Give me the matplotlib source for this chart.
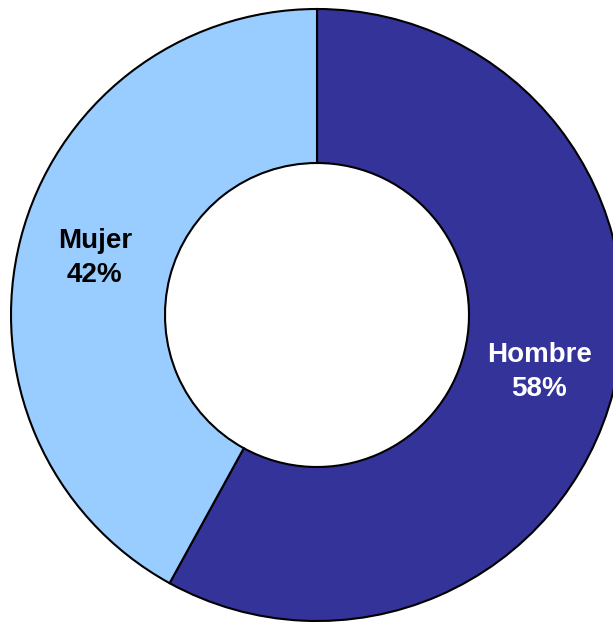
import matplotlib.pyplot as plt
import numpy as np

labels = ['Hombre', 'Mujer']
values = [58, 42]
colors = ['#333399', '#99CCFF']
text_colors = ['white', 'black']

fig = plt.figure(figsize=(6.13, 6.24), dpi=100)
ax = fig.add_axes([0, 0, 1, 1])

R = 306
cx, cy = 317, 309
wedges, _ = ax.pie(values, colors=colors, startangle=90, counterclock=False,
                   radius=R, center=(cx, cy),
                   wedgeprops=dict(width=154, edgecolor='black', linewidth=1.5))

for w, lab, v, tc in zip(wedges, labels, values, text_colors):
    ang = np.deg2rad((w.theta1 + w.theta2) / 2)
    x = cx + 0.75 * R * np.cos(ang)
    y = cy + 0.75 * R * np.sin(ang)
    ax.text(x, y, f'{lab}\n{v}%', ha='center', va='center', color=tc,
            fontsize=20, fontweight='bold', family='Liberation Sans',
            linespacing=1.42)

ax.set_xlim(0, 613)
ax.set_ylim(0, 624)
ax.set_aspect('equal')
ax.axis('off')

fig.savefig('out.png', dpi=100)
